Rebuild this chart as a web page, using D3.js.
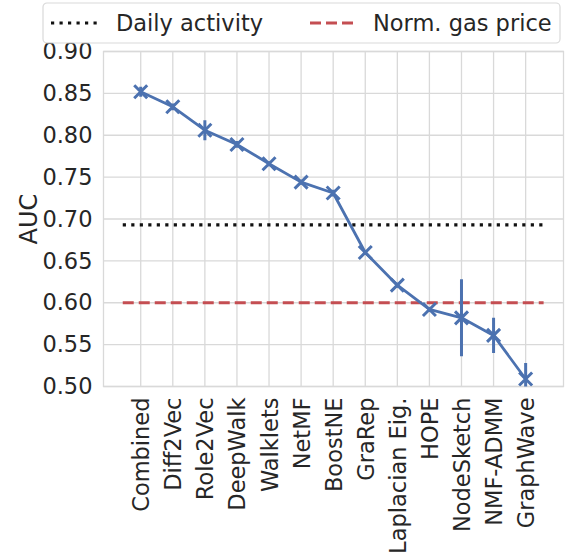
<!DOCTYPE html>
<html>
<head>
<meta charset="utf-8">
<script src="https://cdn.jsdelivr.net/npm/d3@7"></script>
<style>
  body { margin: 0; background: #fff; }
  text { font-family: "DejaVu Sans", sans-serif; fill: #262626; }
</style>
</head>
<body>
<div id="main"></div>
<script>
var methods = ["Combined","Diff2Vec","Role2Vec","DeepWalk","Walklets","NetMF","BoostNE","GraRep","Laplacian Eig.","HOPE","NodeSketch","NMF-ADMM","GraphWave"];
var auc = [0.852,0.834,0.806,0.789,0.766,0.744,0.731,0.660,0.621,0.592,0.582,0.561,0.509];
var aucErr = [0.006,0.004,0.012,0.004,0.003,0.003,0.004,0.003,0.003,0.003,0.046,0.021,0.019];
var yTicks = [0.50,0.55,0.60,0.65,0.70,0.75,0.80,0.85,0.90];
var dailyActivity = 0.693;
var normGasPrice = 0.600;

var blue = "#4c72b0", red = "#c44e52", grid = "#d9d9d9";

var svg = d3.select("#main").append("svg")
  .attr("width", 571)
  .attr("height", 558);//canvas

var x = d3.scaleLinear().domain([-1.16, 13.18]).range([103.5, 563.5]);//category index -> px
var y = d3.scaleLinear().domain([0.5, 0.9]).range([386.5, 51.5]);

svg.append("clipPath").attr("id", "clip").append("rect")
  .attr("x", x.range()[0]).attr("y", y.range()[1])
  .attr("width", x.range()[1] - x.range()[0]).attr("height", y.range()[0] - y.range()[1]);

// grid
svg.append("g").selectAll("line").data(yTicks).enter().append("line")
  .attr("x1", x.range()[0]).attr("x2", x.range()[1])
  .attr("y1", function(d) { return y(d); }).attr("y2", function(d) { return y(d); })
  .attr("stroke", grid).attr("stroke-width", 1.3);
svg.append("g").selectAll("line").data(methods).enter().append("line")
  .attr("x1", function(d, i) { return x(i); }).attr("x2", function(d, i) { return x(i); })
  .attr("y1", y.range()[1]).attr("y2", y.range()[0])
  .attr("stroke", grid).attr("stroke-width", 1.3);
svg.append("rect")
  .attr("x", x.range()[0]).attr("y", y.range()[1])
  .attr("width", x.range()[1] - x.range()[0]).attr("height", y.range()[0] - y.range()[1])
  .attr("fill", "none").attr("stroke", grid).attr("stroke-width", 1.3);

// y axis
var yAxis = d3.axisLeft(y).tickValues(yTicks).tickFormat(d3.format(".2f")).tickSize(0).tickPadding(11);
var gy = svg.append("g").attr("transform", "translate(" + x.range()[0] + ",0)").call(yAxis);
gy.select(".domain").remove();
gy.selectAll("text").style("font-size", "22.5px").style("font-family", "DejaVu Sans").attr("fill", "#262626");

svg.append("text")
  .attr("transform", "translate(37," + ((y.range()[0] + y.range()[1]) / 2) + ") rotate(-90)")
  .style("text-anchor", "middle")
  .style("font-size", "24px")
  .text("AUC");

// x labels
svg.append("g").selectAll("text").data(methods).enter().append("text")
  .attr("transform", function(d, i) { return "translate(" + (x(i) + 8.5) + "," + (y.range()[0] + 11) + ") rotate(-90)"; })
  .style("text-anchor", "end")
  .style("font-size", "22.5px")
  .text(function(d) { return d; });

// reference lines
var plot = svg.append("g").attr("clip-path", "url(#clip)");
plot.append("line")
  .attr("x1", x(-0.56)).attr("x2", x(12.56))
  .attr("y1", y(dailyActivity)).attr("y2", y(dailyActivity))
  .attr("stroke", "#111").attr("stroke-width", 3.2).attr("stroke-dasharray", "3.2,5.3");
plot.append("line")
  .attr("x1", x(-0.56)).attr("x2", x(12.56))
  .attr("y1", y(normGasPrice)).attr("y2", y(normGasPrice))
  .attr("stroke", red).attr("stroke-width", 3).attr("stroke-dasharray", "11,5");

// series line
plot.append("path")
  .datum(auc)
  .attr("d", d3.line().x(function(d, i) { return x(i); }).y(function(d) { return y(d); }))
  .attr("fill", "none").attr("stroke", blue).attr("stroke-width", 2.8).attr("stroke-linejoin", "round");

// error bars
plot.append("g").selectAll("line").data(auc).enter().append("line")
  .attr("x1", function(d, i) { return x(i); }).attr("x2", function(d, i) { return x(i); })
  .attr("y1", function(d, i) { return y(d - aucErr[i]); }).attr("y2", function(d, i) { return y(d + aucErr[i]); })
  .attr("stroke", blue).attr("stroke-width", 3);

// x markers
var m = 6.5;
plot.append("g").selectAll("path").data(auc).enter().append("path")
  .attr("d", function(d, i) {
    var cx = x(i), cy = y(d);
    return "M" + (cx - m) + "," + (cy - m) + "L" + (cx + m) + "," + (cy + m) +
           "M" + (cx - m) + "," + (cy + m) + "L" + (cx + m) + "," + (cy - m);
  })
  .attr("stroke", blue).attr("stroke-width", 3);

// legend
var lg = svg.append("g");
lg.append("rect")
  .attr("x", 43).attr("y", 3).attr("width", 517).attr("height", 40).attr("rx", 4)
  .attr("fill", "#fff").attr("fill-opacity", 0.85).attr("stroke", "#d9d9d9").attr("stroke-width", 1.2);
lg.append("line").attr("x1", 51).attr("x2", 97).attr("y1", 23).attr("y2", 23)
  .attr("stroke", "#111").attr("stroke-width", 3.2).attr("stroke-dasharray", "3.2,5.3");
lg.append("text").attr("x", 116).attr("y", 31).style("font-size", "22.5px").text("Daily activity");
lg.append("line").attr("x1", 310).attr("x2", 356).attr("y1", 23).attr("y2", 23)
  .attr("stroke", red).attr("stroke-width", 3).attr("stroke-dasharray", "11,5");
lg.append("text").attr("x", 373).attr("y", 31).style("font-size", "22.5px").text("Norm. gas price");
</script>
</body>
</html>
